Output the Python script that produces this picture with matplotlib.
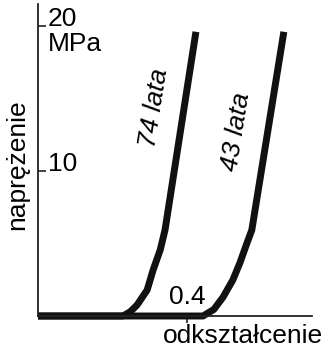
import matplotlib
matplotlib.use("Agg")
import matplotlib.pyplot as plt
from matplotlib.transforms import blended_transform_factory

# ==================================================
# DATA (stress-strain curves)
# ==================================================
strain_74 = [0.0, 0.228, 0.248, 0.266, 0.293, 0.309, 0.328, 0.341, 0.424]
stress_74 = [0.0, 0.0, 0.3, 0.76, 1.79, 3.17, 4.55, 5.93, 19.6]

strain_43 = [0.0, 0.443, 0.472, 0.497, 0.523, 0.542, 0.561, 0.574, 0.660]
stress_43 = [0.0, 0.0, 0.45, 1.31, 2.48, 3.66, 5.03, 5.93, 19.6]

y_ticks = [10, 20]
x_ticks = [0.4]

# ==================================================
# FIGURE
# ==================================================
plt.rcParams["font.family"] = ["Liberation Sans", "DejaVu Sans"]
FS = 19

fig = plt.figure(figsize=(3.25, 3.54), dpi=100)
ax = fig.add_axes([38 / 325, 38 / 354, 274 / 325, 312 / 354])
ax.set_xlim(0, 274 / 372.5)
ax.set_ylim(0, 312 / 14.5)

for s in ["top", "right"]:
    ax.spines[s].set_visible(False)
for s in ["left", "bottom"]:
    ax.spines[s].set_linewidth(1.3)
    ax.spines[s].set_color("#222222")

# curves
ax.plot(strain_74, stress_74, color="#111111", lw=5, solid_joinstyle="round",
        solid_capstyle="butt", clip_on=False)
ax.plot(strain_43, stress_43, color="#111111", lw=5, solid_joinstyle="round",
        solid_capstyle="butt", clip_on=False)

# ticks
ax.set_yticks(y_ticks)
ax.set_yticklabels([])
ax.tick_params(axis="y", direction="in", length=6, width=1.2, color="#222222")
ax.set_xticks(x_ticks)
ax.set_xticklabels([])
ax.tick_params(axis="x", direction="out", length=5, width=1.2, color="#222222")

# tick labels drawn as text
ytr = blended_transform_factory(ax.transAxes, ax.transData)
for t in y_ticks:
    ax.text(0.036, t, str(t), transform=ytr, fontsize=FS, ha="left", va="baseline")
ax.annotate("MPa", xy=(0.036, 20), xycoords=ytr, xytext=(0, -4),
            textcoords="offset points", fontsize=FS, ha="left", va="top")
ax.text(0.40, 0.85, "0.4", fontsize=FS, ha="center", va="baseline")

# axis titles
fig.text(17 / 325, 1 - 165 / 354, "naprężenie", rotation=90, fontsize=FS,
         ha="center", va="center")
fig.text(323 / 325, 1 - 336 / 354, "odkształcenie", fontsize=FS,
         ha="right", va="center")

# curve labels
ax.text((154 - 38) / 372.5, (316 - 108) / 14.5, "74 lata", rotation=81,
        fontsize=FS, style="italic", ha="center", va="center")
ax.text((236 - 38) / 372.5, (316 - 132) / 14.5, "43 lata", rotation=81,
        fontsize=FS, style="italic", ha="center", va="center")

fig.savefig("out.png", dpi=100)
